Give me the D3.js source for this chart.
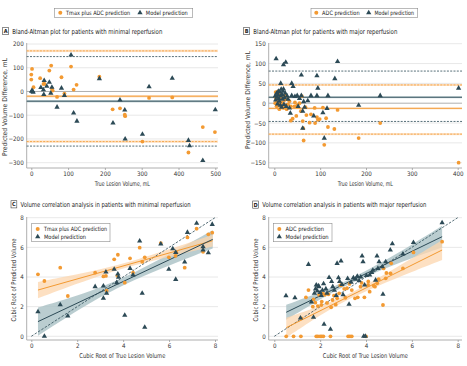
<!DOCTYPE html>
<html>
<head>
<meta charset="utf-8">
<script src="https://cdn.jsdelivr.net/npm/d3@7"></script>
<style>
  body { margin: 0; background: #fff; }
</style>
</head>
<body>
<div id="chart"></div>
<script>

// ---------- data ----------

// A: minimal reperfusion, Bland-Altman [true volume, difference]
var aTmax = [[0,71],[0,50],[2,95],[6,18],[24,56],[33,32],[36,32],[49,88],[54,109],[56,12],[58,4],[70,-23],
  [82,60],[90,-9],[108,105],[115,8],[123,28],[185,62],[221,-75],[241,-71],[254,-98],[255,-104],[302,-211],
  [320,-27],[383,-25],[427,-257],[466,-150],[499,-171]];
var aModel = [[1,1],[2,4],[4,0],[5,-3],[26,17],[33,7],[34,-13],[35,46],[42,22],[49,39],[53,-7],[56,18],[70,-66],
  [82,14],[90,-17],[108,154],[115,-91],[124,-125],[185,54],[222,-133],[241,-36],[254,-78],[255,-200],
  [302,-180],[320,20],[383,56],[427,-206],[430,-229],[466,-291],[500,-77]];
// mean, upper limit, lower limit
var aTmaxStats = [-20, 171, -211];
var aModelStats = [-41, 147, -230];

// B: major reperfusion, Bland-Altman
var bAdc = [[2,0],[3,28],[4,12],[5,-8],[6,5],[7,18],[8,30],[9,-2],[10,22],[11,-15],[12,12],[13,25],[14,-6],
  [16,2],[18,15],[20,-12],[22,8],[24,20],[25,-5],[27,-15],[28,10],[30,-3],[33,5],[36,-8],[36,-44],[40,-39],
  [44,-8],[45,2],[48,-32],[50,-5],[55,0],[58,-20],[60,18],[62,-45],[63,-63],[64,-94],[68,-10],[70,-30],
  [77,-49],[80,-28],[88,-12],[89,-50],[93,-35],[95,-42],[99,-40],[106,-11],[109,-105],[113,-38],[117,-60],
  [131,-65],[138,-17],[184,-88],[231,-50],[402,-150]];
var bModel = [[2,18],[3,8],[4,112],[5,25],[6,15],[7,-2],[8,22],[9,30],[10,12],[11,5],[12,28],[13,-5],[14,50],
  [14,18],[15,35],[16,-10],[17,22],[18,10],[19,30],[20,97],[20,36],[21,-3],[22,14],[24,25],[25,103],[26,-8],
  [28,18],[30,10],[33,-12],[35,-25],[38,50],[38,19],[41,42],[45,17],[50,19],[52,-8],[55,12],[59,71],[59,19],
  [62,-63],[62,-20],[64,4],[66,-10],[73,6],[80,19],[86,-32],[93,69],[95,38],[93,19],[106,-24],[109,-88],
  [115,-13],[117,19],[132,62],[138,105],[184,-5],[231,19],[402,38]];
var bAdcStats = [-13, 46, -78];
var bModelStats = [15, 81, -46];

// C: minimal reperfusion, cubic roots [true, predicted]
var cTmax = [[0.29,4.18],[0.57,3.73],[1.26,4.63],[1.59,2.72],[2.78,4.29],[3.14,4.04],[3.25,4.07],[3.28,3.08],
  [3.61,5.19],[3.77,5.50],[3.75,4.09],[4.07,3.62],[4.30,5.26],[4.43,4.29],[4.72,5.98],[4.83,5.03],[4.94,5.33],
  [5.64,6.29],[5.99,5.33],[6.28,5.42],[6.32,5.64],[6.68,4.63],[6.80,6.67],[7.20,7.26],[7.48,5.70],[7.71,6.88],
  [7.88,6.99]];
var cModel = [[0.29,1.66],[0.57,0.00],[1.26,2.13],[1.59,1.37],[2.78,3.35],[3.14,2.56],[3.14,3.39],[3.25,4.34],
  [3.28,2.90],[3.61,4.52],[3.72,3.62],[3.77,4.20],[3.80,3.98],[4.07,1.42],[4.30,4.58],[4.43,4.13],[4.72,6.43],
  [4.83,2.90],[4.94,0.61],[5.64,6.22],[5.99,4.52],[6.16,5.91],[6.29,3.84],[6.29,5.66],[6.68,5.01],[6.80,7.01],
  [7.20,7.62],[7.48,6.04],[7.48,5.82],[7.71,5.64],[7.88,7.55]];
// fitted line ends and confidence half widths
var cFitX = [0.29, 7.9];
var cTmaxFit = [3.12, 6.45];
var cModelFit = [0.99, 6.54];
var cBandX = [0.29, 1.5, 3, 4.5, 6, 7.9];
var cTmaxHalf = [0.55, 0.38, 0.2, 0.15, 0.25, 0.4];
var cModelHalf = [0.95, 0.62, 0.3, 0.22, 0.38, 0.62];

// D: major reperfusion, cubic roots
var dAdc = [[0.52,0],[0.84,0],[1.16,0],[1.83,0],[1.9,0],[2.0,0],[2.07,0],[2.14,0],[2.45,0],[3.22,0],[3.3,0],
  [3.38,0],[4.0,0],[1.49,3.12],[1.38,2.63],[1.71,2.49],[1.18,1.21],[1.68,2.0],[1.79,2.27],[1.9,2.04],
  [2.05,2.11],[2.12,2.9],[2.07,2.34],[1.95,2.8],[2.2,2.8],[2.36,2.83],[2.48,1.96],[2.54,2.45],[2.68,2.13],
  [2.74,2.56],[2.83,2.9],[2.88,3.44],[2.94,3.46],[3.05,3.2],[3.17,3.24],[3.28,3.53],[3.38,3.12],[3.52,2.56],
  [3.64,2.63],[3.76,3.35],[3.81,3.6],[3.93,2.63],[4.09,3.46],[4.16,3.01],[4.1,3.7],[4.34,3.41],[4.39,3.35],
  [4.49,3.57],[4.55,3.85],[4.77,4.58],[4.74,2.11],[4.86,3.91],[4.89,4.27],[5.07,4.25],[5.1,4.92],[5.61,4.58],
  [6.07,5.66],[7.32,6.38],[2.3,2.25],[2.6,2.75],[3.1,2.6]];
var dModel = [[0.51,2.74],[0.9,2.6],[1.14,1.24],[1.49,4.85],[1.71,1.28],[1.62,2.31],[1.75,2.9],[1.83,3.46],
  [1.8,3.2],[1.88,3.05],[1.92,3.4],[1.95,3.35],[2.0,2.95],[2.05,2.75],[2.1,3.1],[2.17,0.81],[2.45,0.47],
  [2.39,3.96],[2.3,2.9],[2.25,3.2],[2.5,3.7],[2.55,3.35],[2.62,3.1],[2.7,2.75],[2.74,4.92],[2.91,5.08],
  [2.85,3.7],[2.95,3.5],[3.0,2.8],[3.26,2.16],[3.2,3.9],[3.35,3.65],[3.45,3.95],[3.55,3.85],[3.62,4.05],
  [3.7,3.75],[3.77,4.0],[3.83,5.42],[3.87,5.03],[3.9,0],[3.97,0],[3.94,3.46],[4.02,4.1],[4.16,4.13],
  [4.25,4.3],[4.42,3.79],[4.48,5.41],[4.57,5.03],[4.52,4.58],[4.71,4.69],[4.74,2.83],[4.86,5.03],[5.06,5.82],
  [5.15,6.24],[5.61,5.55],[6.07,6.33],[7.32,7.66],[4.3,4.45],[2.8,3.95],[2.15,3.55]];
var dFitX = [0.52, 7.32];
var dAdcFit = [0.58, 5.82];
var dModelFit = [1.62, 6.72];
var dBandX = [0.52, 1.5, 2.5, 3.3, 4.5, 6, 7.32];
var dAdcHalf = [0.67, 0.42, 0.22, 0.16, 0.25, 0.45, 0.67];
var dModelHalf = [0.5, 0.32, 0.18, 0.15, 0.22, 0.45, 0.73];

// ticks
var aTicksX = [0, 100, 200, 300, 400, 500];
var aTicksY = [-300, -200, -100, 0, 100, 200];
var bTicksX = [0, 100, 200, 300, 400];
var bTicksY = [-150, -100, -50, 0, 50, 100, 150];
var rootTicks = [0, 2, 4, 6, 8];

// ---------- drawing ----------

var orange = '#f39a32', teal = '#2c4a56';
var orangeLight = '#fcd6ae', tealLight = '#a9c0c4';
var font = '"Liberation Sans Narrow","DejaVu Sans Condensed","Arial Narrow",sans-serif';
var tri = d3.symbol(d3.symbolTriangle, 12);

// squeeze a text to the width it has in the figure
function fit(sel, w) {
  sel.attr('textLength', w).attr('lengthAdjust', 'spacingAndGlyphs');
}

function createChart() {

  var svg = d3.select('#chart').append('svg')
      .attr('width', 467)
      .attr('height', 366)
      .style('font-family', font);

  // layout of the four panels
  var panels = [
    {key: 'A', title: 'Bland-Altman plot for patients with minimal reperfusion', tw: 150, box: 2.7, boxY: 27.5,
     left: 26.7, right: 218, top: 43, bottom: 168, xd: [0, 500], xr: [31.3, 215.3], yd: [-300, 200], yr: [162.7, 44],
     xt: aTicksX, yt: aTicksY, xl: 'True Lesion Volume, mL', xw: 55, yl: 'Predicted Volume Difference, mL', yw: 98,
     ylx: 7.3, yly: 107},
    {key: 'B', title: 'Bland-Altman plot for patients with major reperfusion', tw: 144, box: 243.7, boxY: 27.5,
     left: 268.7, right: 462, top: 43, bottom: 168, xd: [0, 400], xr: [274.3, 457.7], yd: [-150, 150], yr: [162.7, 43.7],
     xt: bTicksX, yt: bTicksY, xl: 'True Lesion Volume, mL', xw: 55, yl: 'Predicted Volume Difference, mL', yw: 98,
     ylx: 249.5, yly: 100},
    {key: 'C', title: 'Volume correlation analysis in patients with minimal reperfusion', tw: 170, box: 11, boxY: 200.7,
     left: 26.7, right: 218, top: 217, bottom: 340, xd: [0, 8], xr: [31.3, 215], yd: [0, 8], yr: [336.3, 217.7],
     xt: rootTicks, yt: rootTicks, xl: 'Cubic Root of True Lesion Volume', xw: 86, yl: 'Cubic Root of Predicted Volume', yw: 83,
     ylx: 15.8, yly: 280},
    {key: 'D', title: 'Volume correlation analysis in patients with major reperfusion', tw: 164, box: 252.7, boxY: 201,
     left: 268.7, right: 462, top: 217, bottom: 340, xd: [0, 8], xr: [274.3, 457.7], yd: [0, 8], yr: [336.3, 217.7],
     xt: rootTicks, yt: rootTicks, xl: 'Cubic Root of True Lesion Volume', xw: 85, yl: 'Cubic Root of Predicted Volume', yw: 83,
     ylx: 258.3, yly: 280}
  ];

  panels.forEach(function(p) {
    p.x = d3.scaleLinear().domain(p.xd).range(p.xr);
    p.y = d3.scaleLinear().domain(p.yd).range(p.yr);
    p.g = svg.append('g');
    drawFrame(p);
  });

  var A = panels[0], B = panels[1], C = panels[2], D = panels[3];

  blandAltman(A, aTmax, aModel, aTmaxStats, aModelStats, 5);
  blandAltman(B, bAdc, bModel, bAdcStats, bModelStats, 2.5);
  correlation(C, cTmax, cModel, cFitX, cTmaxFit, cModelFit, cBandX, cTmaxHalf, cModelHalf);
  correlation(D, dAdc, dModel, dFitX, dAdcFit, dModelFit, dBandX, dAdcHalf, dModelHalf);

  // legends
  boxLegend(svg, 54.3, 8.3, 138.4, 9, [[60.3, 'Tmax plus ADC prediction', 'o', 64], [140, 'Model prediction', 't', 42]]);
  boxLegend(svg, 311, 8.3, 106.7, 9, [[316.3, 'ADC prediction', 'o', 37.5], [368.7, 'Model prediction', 't', 39.5]]);
  innerLegend(svg, 31.7, 223.3, 78.3, 18.4, [['Tmax plus ADC prediction', 63], ['Model prediction', 42]]);
  innerLegend(svg, 273.3, 223.3, 58.7, 18.4, [['ADC prediction', 38.4], ['Model prediction', 43]]);
}

function drawFrame(p) {
  var g = p.g, x = p.x, y = p.y;

  // title with letter box
  g.append('rect')
      .attr('x', p.box).attr('y', p.boxY)
      .attr('width', 5.8).attr('height', 7.2)
      .attr('fill', '#fff').attr('stroke', '#444').attr('stroke-width', 0.6);
  g.append('text')
      .attr('x', p.box + 2.9).attr('y', p.boxY + 5.6)
      .attr('text-anchor', 'middle')
      .attr('font-size', 5.6).attr('font-weight', 'bold').attr('fill', '#222')
      .text(p.key);
  g.append('text')
      .attr('x', p.box + 9.6).attr('y', p.boxY + 6)
      .attr('font-size', 6.8).attr('fill', '#222')
      .text(p.title)
      .call(fit, p.tw);

  // horizontal grid
  g.selectAll('line.grid')
    .data(p.yt)
    .join('line')
      .attr('class', 'grid')
      .attr('x1', p.left).attr('x2', p.right)
      .attr('y1', d => y(d)).attr('y2', d => y(d))
      .attr('stroke', d => (d === 0 && p.key < 'C') ? '#9b9b9b' : '#e2e2e2')
      .attr('stroke-width', 0.8);

  // axes
  g.append('g')
      .attr('transform', `translate(${p.left},0)`)
      .call(d3.axisLeft(y).tickValues(p.yt).tickSize(0).tickPadding(3))
      .call(a => a.select('.domain').remove())
      .call(a => a.attr('font-family', font).attr('font-size', 6.2))
      .call(a => a.selectAll('text').attr('fill', '#333'));
  g.append('line')
      .attr('x1', p.left).attr('x2', p.left)
      .attr('y1', p.top).attr('y2', p.bottom)
      .attr('stroke', '#9b9b9b').attr('stroke-width', 0.8);

  g.append('g')
      .attr('transform', `translate(0,${p.bottom})`)
      .call(d3.axisBottom(x).tickValues(p.xt).tickSize(2).tickPadding(1.6))
      .call(a => a.select('.domain').remove())
      .call(a => a.attr('font-family', font).attr('font-size', 6.2))
      .call(a => a.selectAll('.tick line').attr('stroke', '#9b9b9b').attr('stroke-width', 0.8))
      .call(a => a.selectAll('text').attr('fill', '#333'));
  g.append('line')
      .attr('x1', p.left).attr('x2', p.right)
      .attr('y1', p.bottom).attr('y2', p.bottom)
      .attr('stroke', '#9b9b9b').attr('stroke-width', 0.8);

  // axis titles
  g.append('text')
      .attr('x', (p.left + p.right) / 2).attr('y', p.bottom + 17.5)
      .attr('text-anchor', 'middle')
      .attr('font-size', 6.6).attr('fill', '#333')
      .text(p.xl)
      .call(fit, p.xw);
  g.append('text')
      .attr('transform', `translate(${p.ylx},${p.yly}) rotate(-90)`)
      .attr('text-anchor', 'middle')
      .attr('font-size', 6.6).attr('fill', '#333')
      .text(p.yl)
      .call(fit, p.yw);
}

function blandAltman(p, first, second, s1, s2, halfBand) {
  var g = p.g, x = p.x, y = p.y;

  // bands around mean and orange limits
  [[s1[0], orangeLight], [s2[0], tealLight], [s1[1], orangeLight], [s1[2], orangeLight]].forEach(function(b) {
    g.append('rect')
        .attr('x', p.left).attr('width', p.right - p.left)
        .attr('y', y(b[0] + halfBand)).attr('height', y(b[0] - halfBand) - y(b[0] + halfBand))
        .attr('fill', b[1]).attr('opacity', 0.75);
  });

  [[s1, orange], [s2, teal]].forEach(function(s) {
    g.append('line')
        .attr('x1', p.left).attr('x2', p.right)
        .attr('y1', y(s[0][0])).attr('y2', y(s[0][0]))
        .attr('stroke', s[1]).attr('stroke-width', 0.9);
    g.selectAll(null)
      .data(s[0].slice(1))
      .join('line')
        .attr('x1', p.left).attr('x2', p.right)
        .attr('y1', d => y(d)).attr('y2', d => y(d))
        .attr('stroke', s[1]).attr('stroke-width', 0.8)
        .attr('stroke-dasharray', '2,1.3');
  });

  points(g, x, y, first, second);
}

function correlation(p, first, second, fitX, fit1, fit2, bandX, half1, half2) {
  var g = p.g, x = p.x, y = p.y;

  [[fit2, half2, tealLight, 0.8], [fit1, half1, orangeLight, 0.75]].forEach(function(f) {
    var line = d3.scaleLinear().domain(fitX).range(f[0]);
    var area = d3.area()
        .x((d, i) => x(bandX[i]))
        .y0((d, i) => y(line(bandX[i]) - d))
        .y1((d, i) => y(line(bandX[i]) + d))
        .curve(d3.curveBasis);
    g.append('path')
        .attr('d', area(f[1]))
        .attr('fill', f[2]).attr('opacity', f[3]);
  });

  // identity line
  g.append('line')
      .attr('x1', x(0)).attr('y1', y(0))
      .attr('x2', x(8)).attr('y2', y(8))
      .attr('stroke', teal).attr('stroke-width', 0.8)
      .attr('stroke-dasharray', '2.5,1.5');

  [[fit1, orange], [fit2, teal]].forEach(function(f) {
    g.append('line')
        .attr('x1', x(fitX[0])).attr('y1', y(f[0][0]))
        .attr('x2', x(fitX[1])).attr('y2', y(f[0][1]))
        .attr('stroke', f[1]).attr('stroke-width', 1);
  });

  points(g, x, y, first, second);
}

function points(g, x, y, first, second) {
  g.selectAll(null)
    .data(first)
    .join('circle')
      .attr('cx', d => x(d[0]))
      .attr('cy', d => y(d[1]))
      .attr('r', 1.9)
      .attr('fill', orange);
  g.selectAll(null)
    .data(second)
    .join('path')
      .attr('d', tri)
      .attr('transform', d => `translate(${x(d[0])},${y(d[1])})`)
      .attr('fill', teal);
}

function boxLegend(svg, bx, by, bw, bh, items) {
  svg.append('rect')
      .attr('x', bx).attr('y', by).attr('width', bw).attr('height', bh)
      .attr('fill', '#fff').attr('stroke', '#8c8c8c').attr('stroke-width', 0.6);
  items.forEach(function(it) {
    marker(svg, it[0], by + bh / 2, it[2]);
    svg.append('text')
        .attr('x', it[0] + 5.8).attr('y', by + bh / 2 + 2.1)
        .attr('font-size', 6).attr('fill', '#222')
        .text(it[1])
        .call(fit, it[3]);
  });
}

function innerLegend(svg, bx, by, bw, bh, items) {
  svg.append('rect')
      .attr('x', bx).attr('y', by).attr('width', bw).attr('height', bh)
      .attr('fill', '#fff').attr('stroke', '#8c8c8c').attr('stroke-width', 0.6);
  [[items[0], 'o', 5.7], [items[1], 't', 13.4]].forEach(function(it) {
    marker(svg, bx + 6, by + it[2], it[1]);
    svg.append('text')
        .attr('x', bx + 12.3).attr('y', by + it[2] + 2.1)
        .attr('font-size', 6).attr('fill', '#222')
        .text(it[0][0])
        .call(fit, it[0][1]);
  });
}

function marker(svg, cx, cy, kind) {
  if (kind === 'o') {
    svg.append('circle').attr('cx', cx).attr('cy', cy).attr('r', 2).attr('fill', orange);
  } else {
    svg.append('path').attr('d', tri).attr('transform', `translate(${cx},${cy})`).attr('fill', teal);
  }
}

window.onload = createChart;
</script>
</body>
</html>
